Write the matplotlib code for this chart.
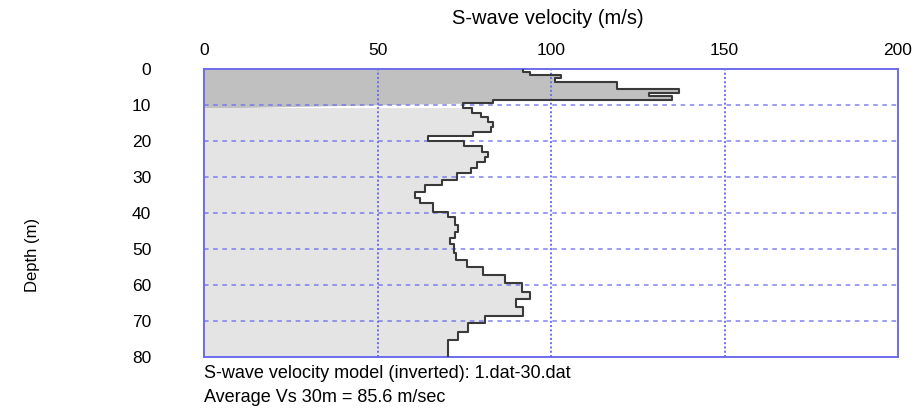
import matplotlib
matplotlib.use("Agg")
import matplotlib.pyplot as plt
import numpy as np

plt.rcParams['font.family'] = ['Liberation Sans', 'DejaVu Sans']

# layer tops (m) and S-wave velocities (m/s)
layer_top = [0.0, 0.75, 1.7, 2.4, 3.5, 5.6, 6.6, 7.5, 8.6, 9.5,
             10.9, 12.1, 13.2, 14.6, 16.0, 17.4, 18.6, 19.9, 21.3, 23.0,
             24.4, 25.7, 27.4, 28.8, 30.8, 32.2, 34.1, 35.9, 37.3, 39.6,
             41.0, 43.3, 45.2, 47.0, 48.5, 51.2, 53.1, 54.9, 57.2, 59.5,
             61.9, 64.0, 66.2, 68.5, 70.6, 73.0, 75.3]
vs = [92.0, 94.0, 102.8, 101.2, 119.1, 137.0, 128.3, 135.0, 83.2, 74.5,
      77.1, 79.7, 81.9, 83.2, 82.6, 77.4, 64.4, 75.0, 80.0, 81.9,
      81.0, 78.8, 76.9, 72.8, 68.5, 63.7, 60.8, 62.2, 66.1, 70.4,
      72.3, 73.3, 72.3, 70.9, 72.0, 72.6, 75.7, 80.3, 86.7, 91.5,
      93.8, 89.9, 92.0, 81.0, 76.2, 73.3, 70.4]
max_depth = 80
shallow_depth = 10   # darker shading above this depth
x_ticks = [0, 50, 100, 150, 200]
y_ticks = [0, 10, 20, 30, 40, 50, 60, 70, 80]

# step profile: each velocity holds from its top to the next top
depth = np.repeat(layer_top + [max_depth], 2)[1:-1]
vel = np.repeat(vs, 2)

fig = plt.figure(figsize=(9.22, 4.08), dpi=100)
ax = fig.add_axes([0.2213, 0.125, 0.7527, 0.7059])

blue = '#6b6bf0'
ax.fill_betweenx(depth, 0, vel, where=depth <= shallow_depth, color='#c0c0c0',
                 lw=0, zorder=1, interpolate=True)
ax.fill_betweenx(depth, 0, vel, where=depth >= shallow_depth, color='#e4e4e4',
                 lw=0, zorder=1, interpolate=True)

for xv in x_ticks[1:-1]:
    ax.axvline(xv, color=blue, ls=(0, (1, 1.2)), lw=1.4, zorder=2)
for yv in y_ticks[1:-1]:
    ax.axhline(yv, color=blue, ls=(0, (3, 3)), lw=1.1, alpha=0.85, zorder=2)

ax.plot(vel, depth, color='#3a3a3a', lw=1.5, zorder=3)

ax.set_xlim(0, 200)
ax.set_ylim(max_depth, 0)
ax.set_xticks(x_ticks)
ax.set_yticks(y_ticks)
ax.xaxis.tick_top()
ax.tick_params(axis='x', length=0, pad=8, labelsize=12.5)
ax.tick_params(axis='y', length=0, pad=38, labelsize=12.5)
for sp in ax.spines.values():
    sp.set_color(blue)
    sp.set_linewidth(1.4)

fig.text(0.594, 0.955, 'S-wave velocity (m/s)', ha='center', va='center', fontsize=14.5)
fig.text(0.035, 0.375, 'Depth (m)', rotation=90, ha='center', va='center',
         fontsize=12)
fig.text(0.2213, 0.085, 'S-wave velocity model (inverted): 1.dat-30.dat',
         ha='left', va='center', fontsize=13)
fig.text(0.2213, 0.025, 'Average Vs 30m = 85.6 m/sec',
         ha='left', va='center', fontsize=13)

fig.savefig('out.png', dpi=100)
